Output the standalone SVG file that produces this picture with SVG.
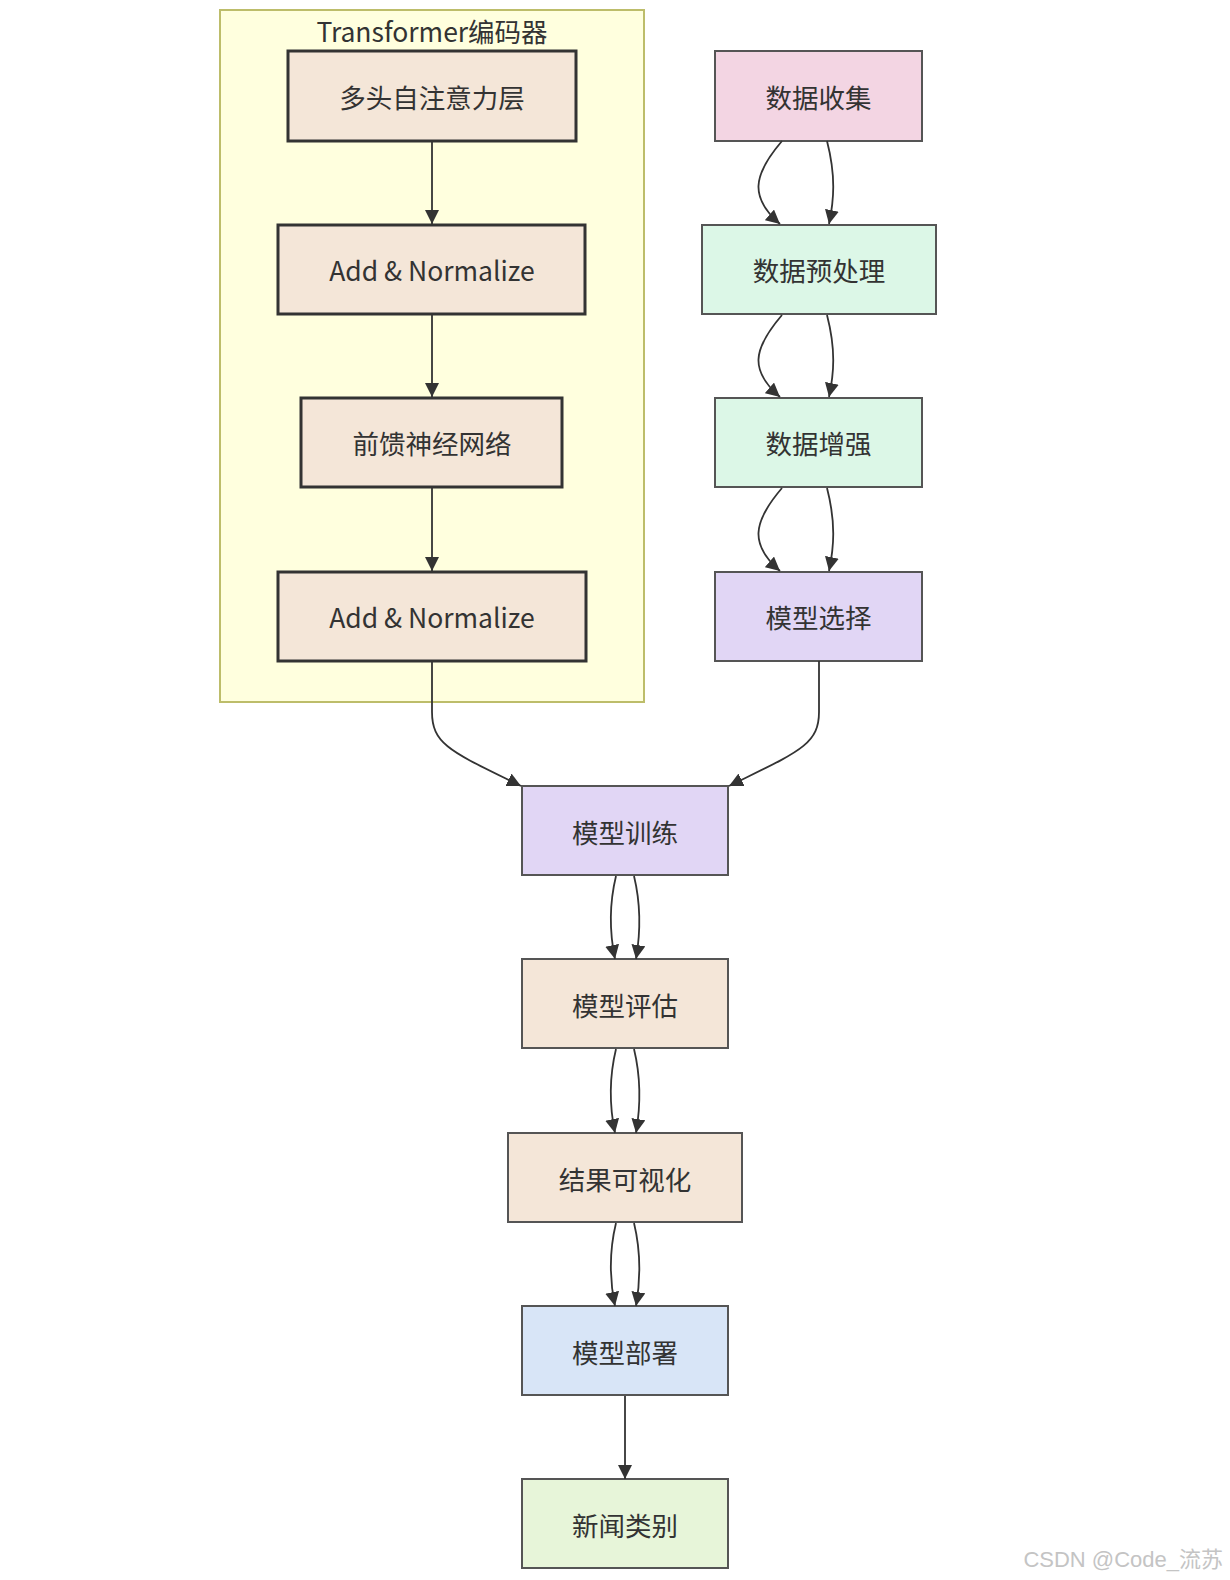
<svg xmlns="http://www.w3.org/2000/svg" width="1230" height="1580" viewBox="0 0 1230 1580">
<style>
  .lbl { font-family: "Noto Sans CJK SC", "Noto Sans", sans-serif; font-size: 26.5px; fill: #333; text-anchor: middle; dominant-baseline: central; }
  .enc { fill: #f4e6d8; stroke: #333; stroke-width: 3; }
  .nd { stroke: #555; stroke-width: 2; }
  .edge { fill: none; stroke: #333; stroke-width: 1.8; }
</style>
<defs>
  <marker id="arrow" viewBox="0 0 10 10" refX="10" refY="5" markerWidth="14" markerHeight="14" markerUnits="userSpaceOnUse" orient="auto">
    <path d="M0,0 L10,5 L0,10 z" fill="#333"/>
  </marker>
</defs>
<rect width="1230" height="1580" fill="#ffffff"/>

<g id="cluster-encoder">
  <rect x="220" y="10" width="424" height="692" fill="#ffffde" stroke="#bdbd6a" stroke-width="2"/>
  <text class="lbl" x="432" y="30">Transformer编码器</text>
</g>

<g id="node-mhsa">
  <rect class="enc" x="288" y="51" width="288" height="90"/>
  <text class="lbl" x="432" y="96">多头自注意力层</text>
</g>
<g id="node-addnorm1">
  <rect class="enc" x="278" y="225" width="307" height="89"/>
  <text class="lbl" x="432" y="269.5">Add &amp; Normalize</text>
</g>
<g id="node-ffn">
  <rect class="enc" x="301" y="398" width="261" height="89"/>
  <text class="lbl" x="432" y="442.5">前馈神经网络</text>
</g>
<g id="node-addnorm2">
  <rect class="enc" x="278" y="572" width="308" height="89"/>
  <text class="lbl" x="432" y="616.5">Add &amp; Normalize</text>
</g>

<g id="node-collect">
  <rect class="nd" x="715" y="51" width="207" height="90" fill="#f3d5e3"/>
  <text class="lbl" x="818.5" y="96">数据收集</text>
</g>
<g id="node-preprocess">
  <rect class="nd" x="702" y="225" width="234" height="89" fill="#dcf7e7"/>
  <text class="lbl" x="819" y="269.5">数据预处理</text>
</g>
<g id="node-augment">
  <rect class="nd" x="715" y="398" width="207" height="89" fill="#dcf7e7"/>
  <text class="lbl" x="818.5" y="442.5">数据增强</text>
</g>
<g id="node-select">
  <rect class="nd" x="715" y="572" width="207" height="89" fill="#e1d6f5"/>
  <text class="lbl" x="818.5" y="616.5">模型选择</text>
</g>

<g id="node-train">
  <rect class="nd" x="522" y="786" width="206" height="89" fill="#e1d6f5"/>
  <text class="lbl" x="625" y="831">模型训练</text>
</g>
<g id="node-eval">
  <rect class="nd" x="522" y="959" width="206" height="89" fill="#f4e6d8"/>
  <text class="lbl" x="625" y="1004">模型评估</text>
</g>
<g id="node-visual">
  <rect class="nd" x="508" y="1133" width="234" height="89" fill="#f4e6d8"/>
  <text class="lbl" x="625" y="1178">结果可视化</text>
</g>
<g id="node-deploy">
  <rect class="nd" x="522" y="1306" width="206" height="89" fill="#d8e5f7"/>
  <text class="lbl" x="625" y="1351">模型部署</text>
</g>
<g id="node-category">
  <rect class="nd" x="522" y="1479" width="206" height="89" fill="#e7f5d9"/>
  <text class="lbl" x="625" y="1524">新闻类别</text>
</g>

<g id="connectors">
  <path class="edge" marker-end="url(#arrow)" d="M432,142 L432,224"/>
  <path class="edge" marker-end="url(#arrow)" d="M432,315 L432,397"/>
  <path class="edge" marker-end="url(#arrow)" d="M432,488 L432,571"/>

  <path class="edge" marker-end="url(#arrow)" d="M782,141 C752,176 750,198 780,224"/>
  <path class="edge" marker-end="url(#arrow)" d="M827,141 C836,176 834,200 829,224"/>
  <path class="edge" marker-end="url(#arrow)" d="M782,315 C752,350 750,371 780,397"/>
  <path class="edge" marker-end="url(#arrow)" d="M827,315 C836,350 834,373 829,397"/>
  <path class="edge" marker-end="url(#arrow)" d="M782,488 C752,523 750,545 780,571"/>
  <path class="edge" marker-end="url(#arrow)" d="M827,488 C836,523 834,547 829,571"/>

  <path class="edge" marker-end="url(#arrow)" d="M432,662 L432,712 C432,745 452,752 521,786"/>
  <path class="edge" marker-end="url(#arrow)" d="M819,661 L819,712 C819,745 798,752 729,786"/>

  <path class="edge" marker-end="url(#arrow)" d="M616,876 C609,905 609,930 615,959"/>
  <path class="edge" marker-end="url(#arrow)" d="M634,876 C641,905 641,930 636,959"/>
  <path class="edge" marker-end="url(#arrow)" d="M616,1049 C609,1078 609,1104 615,1133"/>
  <path class="edge" marker-end="url(#arrow)" d="M634,1049 C641,1078 641,1104 636,1133"/>
  <path class="edge" marker-end="url(#arrow)" d="M616,1223 C609,1252 609,1277 615,1306"/>
  <path class="edge" marker-end="url(#arrow)" d="M634,1223 C641,1252 641,1277 636,1306"/>

  <path class="edge" marker-end="url(#arrow)" d="M625,1396 L625,1479"/>
</g>

<text x="1223" y="1567" font-family="Liberation Sans, Noto Sans CJK SC, sans-serif" font-size="22" fill="#c4c4c4" text-anchor="end">CSDN @Code_流苏</text>
</svg>
